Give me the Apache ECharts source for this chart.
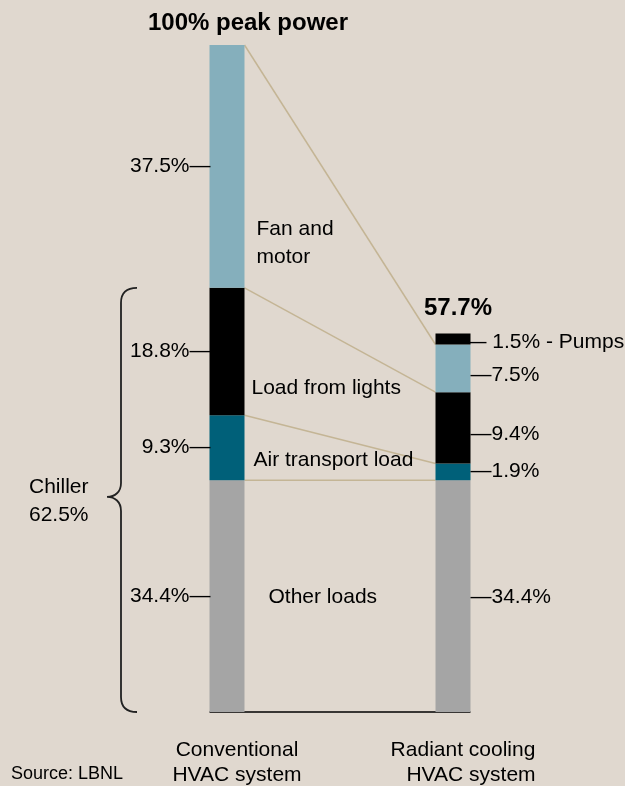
<!DOCTYPE html>
<html>
<head>
<meta charset="utf-8">
<title>Peak power: conventional vs radiant cooling HVAC</title>
<script src="https://cdn.jsdelivr.net/npm/echarts@6/dist/echarts.min.js"></script>
<style>
    html, body { margin: 0; padding: 0; background: #e0d8cf; }
    #chart { width: 625px; height: 786px; }
</style>
</head>
<body>
<div id="chart"></div>
<script>
// Systems on the x axis
const systems = ['Conventional\nHVAC system', 'Radiant cooling\nHVAC system'];

// Segments, bottom to top
const segments = ['Other loads', 'Air transport load', 'Load from lights', 'Fan and motor', 'Pumps'];

// Share of conventional peak power as drawn [conventional, radiant]
const otherLoads = [34.75, 34.75];
const airTransport = [9.75, 2.5];
const lights = [19.1, 10.7];
const fanMotor = [36.4, 7.15];
const pumps = [0, 1.65];

// Printed labels
const convLabels = ['34.4%', '9.3%', '18.8%', '37.5%', ''];
const radLabels = ['34.4%', '1.9%', '9.4%', '7.5%', '1.5% - Pumps'];
const segmentNames = ['Other loads', 'Air transport load', 'Load from lights', 'Fan and\nmotor'];
const totalLabels = ['100% peak power', '57.7%'];
const chillerLabel = 'Chiller\n62.5%';
const sourceLabel = 'Source: LBNL';

// Styling
const font = '"Liberation Sans", Arial, sans-serif';
const barWidth = 35;
const colors = ['#a5a5a5', '#006079', '#000000', '#85afbc', '#000000'];
const radOffsets = [[0, 1], [0, -1], [0, 6], [0, 7], [-5, 3]];
const nameOffsets = [[24, 1], [9, 13], [7, 37], [12, 77]];
const totalOffsets = [[21, -22], [5, -25.5]];

const values = [otherLoads, airTransport, lights, fanMotor, pumps];

function cumulative(j) {
    let s = 0;
    return values.map(v => (s += v[j]));
}
const convTops = cumulative(0);
const radTops = cumulative(1);

const chart = echarts.init(document.getElementById('chart'));

const barSeries = segments.map((name, i) => ({
    name: name,
    type: 'bar',
    stack: 'power',
    barWidth: barWidth,
    itemStyle: { color: colors[i] },
    emphasis: { disabled: true },
    label: { color: '#000', fontSize: 21, fontFamily: font },
    data: values[i].map((v, j) => ({
        value: v,
        label: j === 0
            ? { show: convLabels[i] !== '', position: 'left', distance: -1, formatter: convLabels[i] + '—' }
            : { show: true, position: 'right', distance: 0, offset: radOffsets[i],
                formatter: (i === 4 ? '— ' : '—') + radLabels[i] }
    }))
}));

// Tan lines joining the same segment on both bars
const connectorSeries = {
    type: 'custom',
    silent: true,
    encode: { x: 0, y: [1, 2] },
    data: [0, 1, 2, 3].map(i => [0, convTops[i], radTops[i]]),
    renderItem: function (params, api) {
        const a = api.coord([0, api.value(1)]);
        const b = api.coord([1, api.value(2)]);
        return {
            type: 'line',
            shape: { x1: a[0] + barWidth / 2, y1: a[1], x2: b[0] - barWidth / 2, y2: b[1] },
            style: { stroke: '#c4b595', lineWidth: 1.5 }
        };
    }
};

// Segment names between the bars
const nameSeries = {
    type: 'custom',
    silent: true,
    encode: { x: 0, y: [1, 2] },
    data: [0, 1, 2, 3].map(i => [0, i === 0 ? 0 : convTops[i - 1], convTops[i]]),
    renderItem: function (params, api) {
        const i = params.dataIndex;
        const p = api.coord([0, (api.value(1) + api.value(2)) / 2]);
        return {
            type: 'text',
            style: {
                text: segmentNames[i],
                x: p[0] + barWidth / 2 + nameOffsets[i][0],
                y: p[1] + nameOffsets[i][1],
                fill: '#000',
                font: '21px ' + font,
                lineHeight: 28,
                verticalAlign: 'middle',
                align: 'left'
            }
        };
    }
};

// Totals above each bar
const totalSeries = {
    type: 'custom',
    silent: true,
    encode: { x: 0, y: 1 },
    data: [[0, convTops[4]], [1, radTops[4]]],
    renderItem: function (params, api) {
        const i = params.dataIndex;
        const p = api.coord([api.value(0), api.value(1)]);
        return {
            type: 'text',
            style: {
                text: totalLabels[i],
                x: p[0] + totalOffsets[i][0],
                y: p[1] + totalOffsets[i][1],
                fill: '#000',
                font: 'bold 24px ' + font,
                verticalAlign: 'middle',
                align: 'center'
            }
        };
    }
};

// Base line under the two bars
const baseSeries = {
    type: 'custom',
    silent: true,
    encode: { x: 0, y: 1 },
    data: [[0, 0]],
    renderItem: function (params, api) {
        const a = api.coord([0, 0]);
        const b = api.coord([1, 0]);
        return {
            type: 'line',
            shape: { x1: a[0] - barWidth / 2, y1: a[1], x2: b[0] + barWidth / 2, y2: b[1] },
            style: { stroke: '#000', lineWidth: 1.5 }
        };
    }
};

// Curly brace grouping the chiller loads (other + air transport + lights)
const braceSeries = {
    type: 'custom',
    silent: true,
    encode: { x: 0, y: [1, 2] },
    data: [[0, 0, convTops[2]]],
    renderItem: function (params, api) {
        const bot = api.coord([0, api.value(1)])[1];
        const top = api.coord([0, api.value(2)])[1];
        const mid = (top + bot) / 2 - 3;
        const x = 121, tip = 107, end = 137;
        const d = 'M' + end + ' ' + top + ' C' + (x + 6) + ' ' + top + ' ' + x + ' ' + (top + 5) + ' ' + x + ' ' + (top + 15) +
                  ' L' + x + ' ' + (mid - 14) +
                  ' C' + x + ' ' + (mid - 5) + ' ' + (x - 6) + ' ' + mid + ' ' + tip + ' ' + mid +
                  ' C' + (x - 6) + ' ' + mid + ' ' + x + ' ' + (mid + 5) + ' ' + x + ' ' + (mid + 14) +
                  ' L' + x + ' ' + (bot - 15) +
                  ' C' + x + ' ' + (bot - 5) + ' ' + (x + 6) + ' ' + bot + ' ' + end + ' ' + bot;
        return {
            type: 'path',
            shape: { pathData: d },
            style: { fill: 'none', stroke: '#222', lineWidth: 1.8 }
        };
    }
};

const option = {
    backgroundColor: '#e0d8cf',
    animation: false,
    grid: { left: 114, right: 59, top: 45, bottom: 73 },
    xAxis: {
        type: 'category',
        data: systems,
        axisLine: { show: false },
        axisTick: { show: false },
        axisLabel: {
            margin: 26,
            interval: 0,
            formatter: function (val, idx) {
                const parts = val.split('\n');
                return idx === 0
                    ? '{a|' + parts[0] + '}\n{a|' + parts[1] + '}'
                    : '{a|' + parts[0] + '}\n{b|' + parts[1] + '}';
            },
            rich: {
                a: { fontSize: 21, fontFamily: font, color: '#000', lineHeight: 25, padding: [0, 0, 0, 20] },
                b: { fontSize: 21, fontFamily: font, color: '#000', lineHeight: 25, padding: [0, 0, 0, 36] }
            }
        }
    },
    yAxis: { type: 'value', min: 0, max: 100, show: false },
    series: barSeries.concat([connectorSeries, nameSeries, totalSeries, baseSeries, braceSeries]),
    graphic: [
        {
            type: 'text',
            left: 29,
            top: 473,
            style: { text: chillerLabel, font: '21px ' + font, fill: '#000', lineHeight: 28 }
        },
        {
            type: 'text',
            left: 11,
            top: 765,
            style: { text: sourceLabel, font: '18px ' + font, fill: '#000' }
        }
    ]
};

chart.setOption(option);
</script>
</body>
</html>
